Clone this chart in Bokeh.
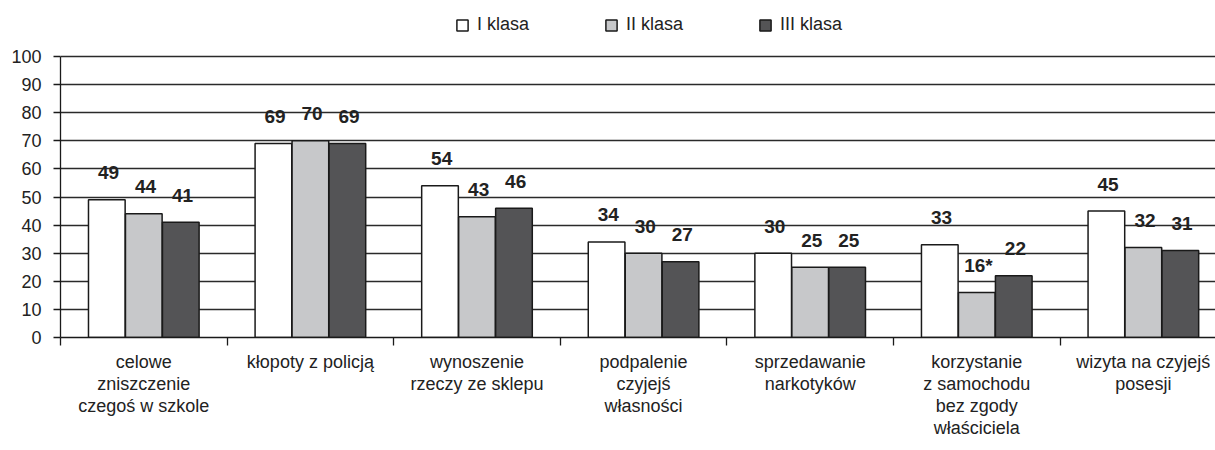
from bokeh.plotting import figure
from bokeh.models import Range1d, FixedTicker, Legend, LegendItem, ColumnDataSource
from bokeh.transform import dodge
from bokeh.core.properties import value
from bokeh.embed import file_html
from bokeh.resources import INLINE

categories = [
    "celowe\nzniszczenie\nczegoś w szkole",
    "kłopoty z policją",
    "wynoszenie\nrzeczy ze sklepu",
    "podpalenie\nczyjejś\nwłasności",
    "sprzedawanie\nnarkotyków",
    "korzystanie\nz samochodu\nbez zgody\nwłaściciela",
    "wizyta na czyjejś\nposesji",
]
series_names = ["I klasa", "II klasa", "III klasa"]
klasa1 = [49, 69, 54, 34, 30, 33, 45]
klasa2 = [44, 70, 43, 30, 25, 16, 32]
klasa3 = [41, 69, 46, 27, 25, 22, 31]
labels1 = ["49", "69", "54", "34", "30", "33", "45"]
labels2 = ["44", "70", "43", "30", "25", "16*", "32"]
labels3 = ["41", "69", "46", "27", "25", "22", "31"]
y_ticks = list(range(0, 101, 10))

FONT = "Liberation Sans"
colors = ["#ffffff", "#c7c8ca", "#545456"]

centers = [i + 0.5 for i in range(len(categories))]
src = ColumnDataSource(dict(x=centers, k1=klasa1, k2=klasa2, k3=klasa3,
                            l1=labels1, l2=labels2, l3=labels3))

# frame extends to the top of the page so the legend (drawn inside the frame) is not clipped
p = figure(width=1215, height=450, output_backend="svg",
           toolbar_location=None, x_range=Range1d(0, 6.933), y_range=Range1d(0, 119.93),
           min_border_left=60, min_border_top=0, min_border_right=0, min_border_bottom=113)
p.outline_line_color = None
p.background_fill_color = "white"

bw = 0.22
offs = [-0.222, 0.0, 0.222]
rends = []
for k, (col, lab, off, c) in enumerate(zip(["k1", "k2", "k3"], ["l1", "l2", "l3"], offs, colors)):
    r = p.vbar(x=dodge("x", off), top=col, width=bw, source=src, fill_color=c,
               line_color="#1a1a1a", line_width=1.5)
    rends.append(r)
    p.text(x=dodge("x", off + 0.01), y=col, text=lab, source=src, text_align="center",
           text_baseline="alphabetic", y_offset=-27, text_font=value(FONT),
           text_font_size="19px", text_font_style="bold", text_color="#222222")

# y axis
p.yaxis.ticker = FixedTicker(ticks=y_ticks)
p.yaxis.bounds = (0, 100)
p.yaxis.axis_line_color = "#1a1a1a"
p.yaxis.axis_line_width = 1.3
p.yaxis.major_tick_line_color = "#1a1a1a"
p.yaxis.major_tick_line_width = 1.3
p.yaxis.major_tick_out = 7
p.yaxis.major_tick_in = 0
p.yaxis.minor_tick_line_color = None
p.yaxis.major_label_text_font = FONT
p.yaxis.major_label_text_font_size = "18px"
p.yaxis.major_label_text_color = "#222222"
p.yaxis.major_label_standoff = 12

# x axis
p.xaxis.ticker = FixedTicker(ticks=centers, minor_ticks=list(range(0, 8)))
p.xaxis.major_label_overrides = {c: lab for c, lab in zip(centers, categories)}
p.xaxis.major_tick_line_color = None
p.xaxis.major_tick_out = 0
p.xaxis.major_tick_in = 0
p.xaxis.minor_tick_line_color = "#1a1a1a"
p.xaxis.minor_tick_line_width = 1.3
p.xaxis.minor_tick_out = 8
p.xaxis.minor_tick_in = 0
p.xaxis.axis_line_color = "#1a1a1a"
p.xaxis.axis_line_width = 1.3
p.xaxis.major_label_text_font = FONT
p.xaxis.major_label_text_font_size = "18px"
p.xaxis.major_label_text_color = "#222222"
p.xaxis.major_label_text_line_height = 1.1
p.xaxis.major_label_standoff = 6

p.xgrid.grid_line_color = None
p.ygrid.grid_line_color = "#2a2a2a"
p.ygrid.grid_line_width = 1.3

legend = Legend(items=[LegendItem(label=n, renderers=[r]) for n, r in zip(series_names, rends)],
                orientation="horizontal", location=(395, 302), spacing=75,
                glyph_width=14, glyph_height=14, label_standoff=8,
                label_text_font=FONT, label_text_font_size="18px", label_text_color="#222222",
                border_line_color=None, background_fill_alpha=0, padding=0, margin=0)
p.add_layout(legend, "center")

open("out.html", "w").write(file_html(p, INLINE))
